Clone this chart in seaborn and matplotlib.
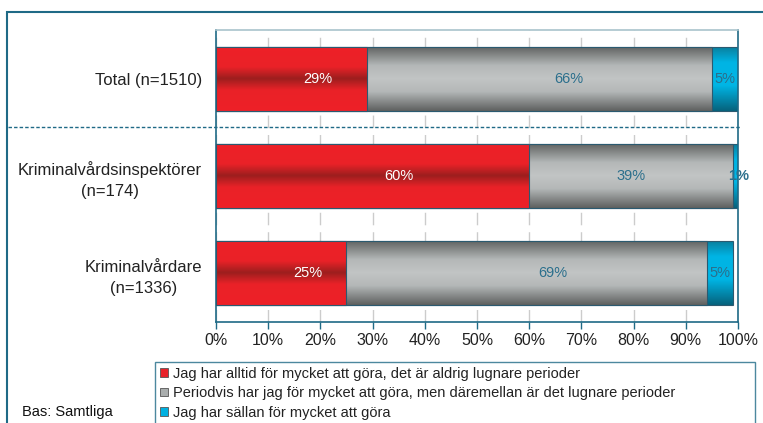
import numpy as np
import pandas as pd
import matplotlib
matplotlib.use("Agg")
import matplotlib.pyplot as plt
import seaborn as sns
from matplotlib.colors import LinearSegmentedColormap
from matplotlib.patches import Patch, Rectangle
from matplotlib.lines import Line2D

# ---- data ----
groups = ["Total (n=1510)", "Kriminalvårdsinspektörer\n(n=174)", "Kriminalvårdare\n(n=1336)"]
alltid = [29, 60, 25]
periodvis = [66, 39, 69]
sallan = [5, 1, 5]
series_names = [
    "Jag har alltid för mycket att göra, det är aldrig lugnare perioder",
    "Periodvis har jag för mycket att göra, men däremellan är det lugnare perioder",
    "Jag har sällan för mycket att göra",
]
x_ticks = list(range(0, 101, 10))

sns.set_theme(style="white")
plt.rcParams["font.family"] = ["Liberation Sans", "DejaVu Sans"]

teal = "#1f6a86"
label_teal = "#2b6f8c"

df = pd.DataFrame({"grupp": groups, "a": alltid, "b": periodvis, "c": sallan})
df["cum_a"] = df["a"]
df["cum_b"] = df["a"] + df["b"]
df["cum_c"] = df["a"] + df["b"] + df["c"]

fig = plt.figure(figsize=(7.63, 4.23), dpi=100)
ax = fig.add_axes([0.2831, 0.2388, 0.6841, 0.6903])

# gradient colour maps (vertical profile inside each bar)
cmaps = [
    LinearSegmentedColormap.from_list("red", [(0, "#ee2027"), (0.32, "#ea2228"), (0.5, "#9c1e1e"),
                                              (0.68, "#ea2228"), (1, "#ee2027")]),
    LinearSegmentedColormap.from_list("gray", [(0, "#5e605f"), (0.3, "#b4b8b8"), (0.5, "#c2c5c5"),
                                               (0.7, "#b4b8b8"), (1, "#5e605f")]),
    LinearSegmentedColormap.from_list("cyan", [(0, "#0a7c9a"), (0.25, "#00b4e4"), (0.6, "#00b6e6"),
                                               (1, "#06627c")]),
]
flat_colors = ["#e8222a", "#a9adad", "#00b0e0"]
layer_z = {2: 2, 1: 4, 0: 6}

# stacked bars: draw cumulative totals from widest to narrowest
ax.set_axisbelow(True)
order = [("cum_c", 2), ("cum_b", 1), ("cum_a", 0)]
for col, k in order:
    sns.barplot(data=df, x=col, y="grupp", orient="h", color=flat_colors[k],
                width=0.66, edgecolor="#2b5a70", linewidth=0.8, ax=ax)

grad = np.linspace(0, 1, 256).reshape(-1, 1)
for i, p in enumerate(ax.patches):
    k = order[i // len(groups)][1]
    z = layer_z[k]
    x0, y0, w, h = p.get_x(), p.get_y(), p.get_width(), p.get_height()
    im = ax.imshow(grad, cmap=cmaps[k], aspect="auto", extent=[x0, x0 + w, y0 + h, y0],
                   zorder=z, interpolation="bilinear")
    im.set_clip_path(p)
    p.set_zorder(z + 0.5)
    p.set_facecolor("none")

ax.set_xlim(0, 100)
ax.set_ylim(2.5, -0.5)

# value labels
nudge = {(0, 0): 5, (1, 0): 5, (2, 0): 5, (0, 1): 5.5, (1, 1): 0, (2, 1): 5,
         (0, 2): 0, (1, 2): 0.6, (2, 2): 0}
for r in range(len(groups)):
    vals = [alltid[r], periodvis[r], sallan[r]]
    start = 0
    for k, v in enumerate(vals):
        cx = start + v / 2 + nudge[(r, k)]
        color = "white" if k == 0 else label_teal
        weight = "bold" if (k == 2 and v < 3) else "normal"
        ax.text(cx, r, f"{v}%", ha="center", va="center", fontsize=10.5,
                color=color, fontweight=weight, zorder=10, clip_on=False)
        start += v

# grid, ticks, spines
ax.set_xticks(x_ticks)
ax.set_xticklabels([f"{t}%" for t in x_ticks], fontsize=11.5, color="#222222")
ax.xaxis.grid(True, color="#cccccc", linestyle=(0, (9, 5)), linewidth=1.0, zorder=0)
ax.yaxis.grid(False)
ax.set_yticks(range(len(groups)))
ax.set_yticklabels(groups, fontsize=12, color="#222222", ha="right", multialignment="center",
                   linespacing=1.5)
ax.tick_params(axis="y", which="major", length=0, pad=10)
ax.set_yticks([-0.5, 0.5, 1.5, 2.5], minor=True)
ax.tick_params(axis="y", which="minor", length=5, color=teal, width=1, direction="out")
ax.tick_params(axis="x", which="major", length=5, color=teal, width=1, direction="out", pad=3,
               bottom=True)
for side, sp in ax.spines.items():
    sp.set_color(teal)
    sp.set_linewidth(1.2)
ax.spines["top"].set_color("#a9c3cc")
ax.set_xlabel("")
ax.set_ylabel("")

# dotted separator between total and subgroups
ax.add_line(Line2D([-39.8, 100.4], [0.5, 0.5], color=teal, linestyle=(0, (2.5, 1.5)),
                   linewidth=1.0, clip_on=False, zorder=1))

# outer frame of the chart
fig.patches.append(Rectangle((7 / 763, -0.2), 1.2, 1.2 - 12 / 423, transform=fig.transFigure,
                             fill=False, edgecolor=teal, linewidth=1.5))

# legend (box runs past the bottom edge like in the source)
handles = [Patch(facecolor=flat_colors[k], edgecolor="#555555", linewidth=0.6) for k in range(3)]
leg = fig.legend(handles, series_names, loc="upper left",
                 bbox_to_anchor=(155 / 763, 1 - 362 / 423, 600 / 763, 0), mode="expand",
                 frameon=True, fancybox=False, edgecolor=teal, fontsize=10.5,
                 handlelength=0.55, handleheight=0.55, handletextpad=0.35, labelspacing=0.38,
                 borderpad=0.32, borderaxespad=0)
leg.get_frame().set_linewidth(1.0)
for t in leg.get_texts():
    t.set_color("#222222")

fig.text(22 / 763, 1 - 412 / 423, "Bas: Samtliga", fontsize=10.5, color="#111111", va="center")

fig.savefig("out.png", dpi=100)
